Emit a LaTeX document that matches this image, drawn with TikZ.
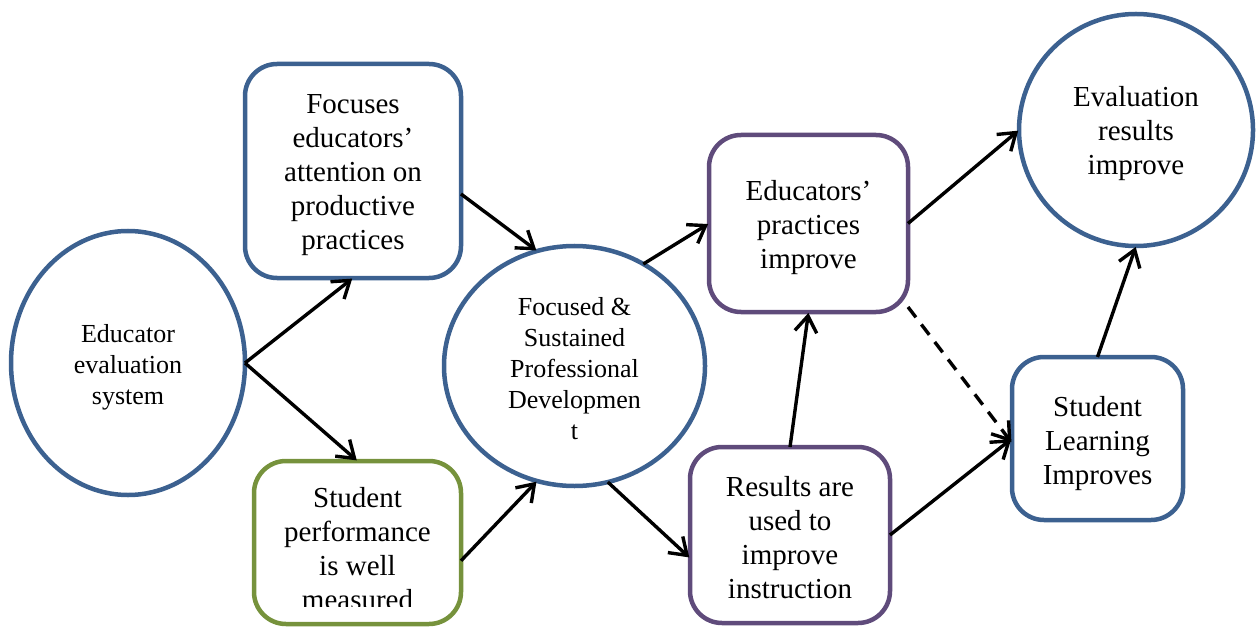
\documentclass[tikz,border=0pt]{standalone}
\usepackage{fontspec}
\setmainfont{Liberation Serif}
\usetikzlibrary{shapes.geometric,arrows.meta,calc}
\definecolor{bblue}{HTML}{3C6190}
\definecolor{ggreen}{HTML}{76923C}
\definecolor{ppurple}{HTML}{5F4B7B}
\begin{document}
\begin{tikzpicture}[x=1pt,y=-1pt,
  every node/.style={inner sep=0pt, outer sep=0pt, align=center},
  bigtext/.style={font=\fontsize{29}{34}\selectfont, yshift=-4pt},
  smalltext/.style={font=\fontsize{26}{31}\selectfont, yshift=-4pt},
  oval/.style={ellipse, draw=bblue, line width=4.5pt},
  rbox/.style={rectangle, rounded corners=32pt, line width=4.5pt},
  arr/.style={line width=3.4pt, shorten >=1pt, -{Straight Barb[length=16pt,width=22pt]}},
  dashedarr/.style={arr, dash pattern=on 13pt off 9pt}
]
\useasboundingbox (0,0) rectangle (1257,628);

\node[oval, minimum width=234pt, minimum height=264pt,
  label={[smalltext]center:Educator\\evaluation\\system}] (edu) at (128,363) {};

\node[rbox, draw=bblue, minimum width=216pt, minimum height=214pt,
  label={[bigtext]center:Focuses\\educators’\\attention on\\productive\\practices}] (foc) at (353,171) {};

\node[rbox, draw=ggreen, minimum width=207pt, minimum height=163pt] (sp) at (357.5,542.5) {};
\begin{scope}
  \clip (254,461) rectangle (461,606);
  \node[font=\fontsize{29}{34}\selectfont] (spt) at (357.5,549) {Student\\performance\\is well\\measured};
\end{scope}

\node[oval, minimum width=261pt, minimum height=240pt,
  label={[smalltext, yshift=1pt]center:Focused \&\\Sustained\\Professional\\Developmen\\t}] (fpd) at (574.5,366) {};

\node[rbox, draw=ppurple, minimum width=199pt, minimum height=177pt,
  label={[bigtext]center:Educators’\\practices\\improve}] (epi) at (808.5,223.5) {};

\node[rbox, draw=ppurple, minimum width=200pt, minimum height=176pt,
  label={[bigtext, yshift=1pt]center:Results are\\used to\\improve\\instruction}] (res) at (790,535) {};

\node[oval, minimum width=234pt, minimum height=232pt,
  label={[bigtext]center:Evaluation\\results\\improve}] (eval) at (1136,130) {};

\node[rbox, draw=bblue, minimum width=171pt, minimum height=163pt,
  label={[bigtext, yshift=-1pt]center:Student\\Learning\\Improves}] (sl) at (1097.5,438.5) {};

\draw[arr] (edu.east) -- (foc.south);
\draw[arr] (edu.east) -- (sp.north);
\draw[arr] (foc.-12) -- (fpd.108);
\draw[arr] (sp.-10) -- (fpd.252);
\draw[arr] (fpd.56) -- (epi.west);
\draw[arr] (fpd.286) -- (res.193);
\draw[arr] (res.north) -- (epi.south);
\draw[arr] (epi.east) -- (eval.west);
\draw[dashedarr] (epi.-40) -- (sl.183);
\draw[arr] (res.east) -- (sl.west);
\draw[arr] (sl.north) -- (eval.south);
\end{tikzpicture}
\end{document}
